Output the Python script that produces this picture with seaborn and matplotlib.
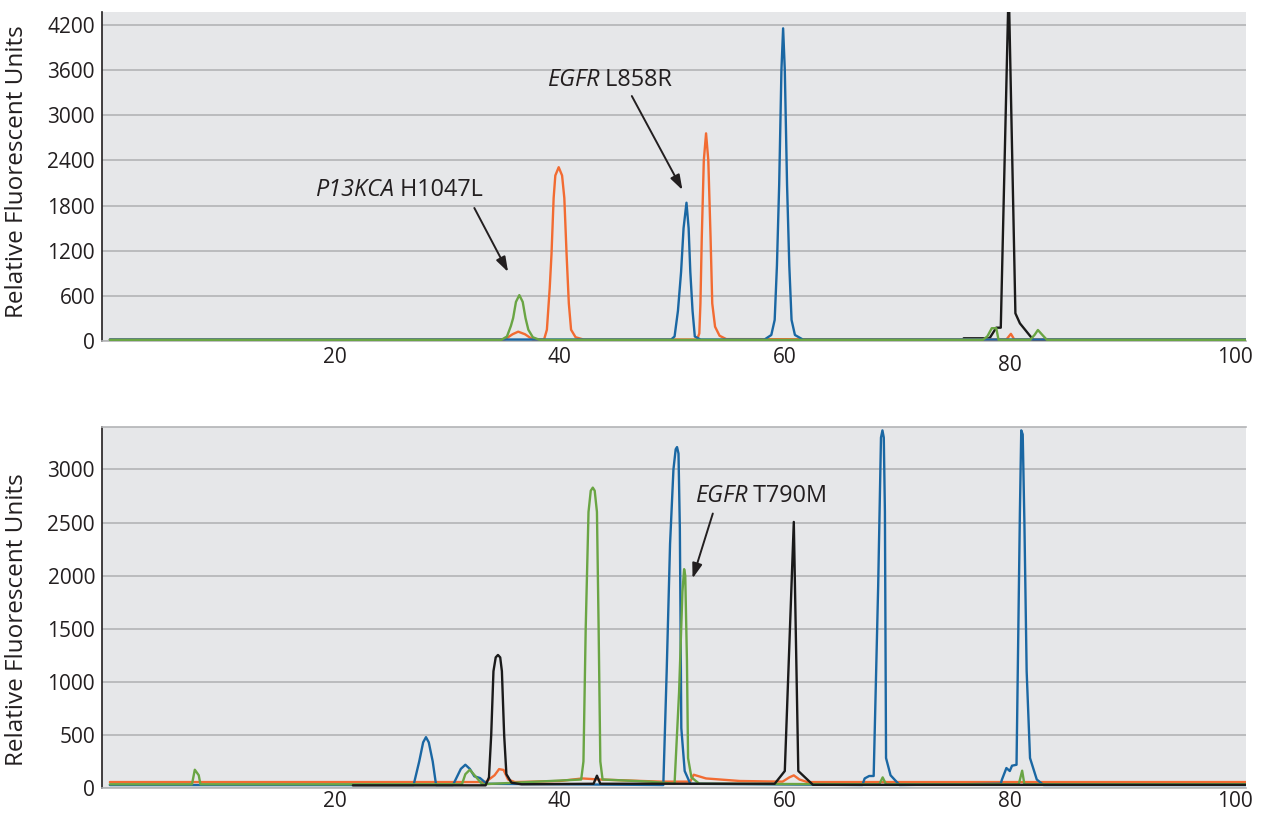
import matplotlib
matplotlib.use("Agg")
import matplotlib.pyplot as plt
import seaborn as sns
import pandas as pd

# ---------------- data ----------------
# Top panel
top_green_x = [0, 34.8, 35.3, 35.65, 35.85, 36.1, 36.4, 36.7, 36.95, 37.2, 37.6, 38.2,
               77.6, 78.0, 78.4, 78.8, 79.0, 81.8, 82.2, 82.5, 82.9, 83.3, 101]
top_green_y = [15, 15, 60, 200, 305, 520, 610, 520, 305, 150, 50, 15,
               15, 60, 170, 170, 15, 15, 80, 146, 80, 15, 15]

top_orange_x = [0, 35.1, 35.8, 36.3, 36.9, 37.6,
                38.6, 38.85, 39.1, 39.26, 39.45, 39.6, 39.9, 40.2, 40.4, 40.6, 40.8, 41.0, 41.4, 42.1,
                52.2, 52.4, 52.5, 52.62, 52.8, 53.0, 53.2, 53.4, 53.55, 53.8, 54.2, 54.8,
                79.7, 80.1, 80.4, 101]
top_orange_y = [20, 20, 90, 124, 90, 20,
                20, 150, 700, 1155, 1900, 2200, 2310, 2200, 1900, 1155, 500, 150, 50, 20,
                20, 100, 500, 1380, 2400, 2760, 2400, 1380, 500, 190, 70, 25,
                20, 95, 20, 20]

top_blue_x = [0, 49.9, 50.2, 50.5, 50.78, 51.0, 51.26, 51.45, 51.6, 51.8, 52.0, 52.5,
              58.2, 58.8, 59.1, 59.3, 59.5, 59.7, 59.85, 60.0, 60.2, 60.4, 60.6, 60.9, 61.6, 101]
top_blue_y = [20, 20, 60, 400, 919, 1500, 1838, 1500, 919, 400, 60, 20,
              20, 80, 280, 1000, 2078, 3600, 4156, 3600, 2078, 1000, 280, 80, 20, 20]

top_black_x = [75.9, 78.2, 78.8, 79.2, 79.85, 79.95, 80.5, 80.9, 82.1, 101]
top_black_y = [36, 36, 177, 177, 4400, 4400, 368, 235, 13, 13]

# Bottom panel
bot_orange_x = [0, 33.4, 34.2, 34.6, 35.0, 35.4, 36.0, 40.0, 42.0, 43.5, 49.0, 51.6, 51.9, 53.0, 56.0,
                59.8, 60.4, 60.8, 61.3, 62.0, 101]
bot_orange_y = [56, 56, 120, 178, 170, 80, 56, 66, 90, 80, 60, 60, 125, 90, 66,
                60, 100, 119, 80, 56, 56]

bot_blue_x = [0, 27.0, 27.5, 27.85, 28.1, 28.35, 28.7, 29.0,
              30.5, 31.2, 31.6, 32.0, 32.4, 32.9, 33.5,
              49.2, 49.5, 49.8, 50.1, 50.3, 50.42, 50.55, 50.67, 50.8, 51.1, 51.6,
              66.9, 67.1, 67.5, 67.9, 68.3, 68.55, 68.68, 68.8, 68.9, 69.0, 69.4, 70.2,
              79.2, 79.3, 79.7, 80.0, 80.2, 80.6, 80.9, 81.02, 81.15, 81.3, 81.5, 81.8, 82.4, 83.0, 101]
bot_blue_y = [28, 28, 250, 430, 479, 430, 250, 28,
              28, 180, 219, 180, 110, 94, 40,
              28, 1100, 2300, 3000, 3190, 3211, 3150, 2443, 564, 160, 40,
              28, 90, 113, 113, 1900, 3300, 3368, 3300, 2600, 282, 120, 28,
              40, 78, 188, 160, 210, 219, 2600, 3368, 3330, 2500, 1100, 282, 80, 28, 28]

bot_green_x = [0, 7.3, 7.55, 7.9, 8.05, 31.3, 31.6, 32.0, 32.5, 33.1,
               41.9, 42.1, 42.3, 42.55, 42.75, 42.93, 43.1, 43.3, 43.45, 43.6, 43.8,
               48.0, 50.2, 50.6, 50.9, 51.05, 51.15, 51.3, 51.4, 51.7, 52.4,
               68.4, 68.7, 69.0, 80.8, 81.1, 81.3, 101]
bot_green_y = [35, 35, 172, 120, 35, 35, 130, 172, 110, 35,
               80, 250, 1500, 2600, 2800, 2829, 2800, 2600, 1500, 250, 80,
               60, 40, 900, 1850, 2061, 2000, 1200, 282, 100, 40,
               35, 100, 35, 35, 163, 35, 35]

bot_black_x = [21.6, 33.4, 33.7, 33.9, 34.1, 34.3, 34.5, 34.7, 34.85, 35.05, 35.25, 35.7, 36.6,
               43.0, 43.3, 43.6, 59.1, 60.0, 60.8, 61.2, 62.5, 101]
bot_black_y = [25, 25, 100, 500, 1100, 1230, 1253, 1230, 1100, 500, 130, 50, 35,
               40, 116, 40, 40, 160, 2506, 160, 30, 30]

top_yticks = [0, 600, 1200, 1800, 2400, 3000, 3600, 4200]
bot_yticks = [0, 500, 1000, 1500, 2000, 2500, 3000]
xticks = [20, 40, 60, 80, 100]
ylabel = "Relative Fluorescent Units"

# ---------------- styling ----------------
BLUE = "#1a67a3"
ORANGE = "#f26b32"
GREEN = "#6aa544"
BLACK = "#1a1a1a"
BG = "#e6e7e9"
GRID = "#b3b4b6"
TXT = "#231f20"

sns.set_style("white")
plt.rcParams["font.family"] = ["Open Sans", "DejaVu Sans"]
plt.rcParams["text.color"] = TXT

fig = plt.figure(figsize=(12.61, 8.13), dpi=100)
ax1 = fig.add_axes([102 / 1261, 1 - 341 / 813, 1144 / 1261, 329 / 813])
ax2 = fig.add_axes([102 / 1261, 1 - 788 / 813, 1144 / 1261, 361 / 813])


def draw(ax, xs, ys, color, z):
    df = pd.DataFrame({"x": xs, "y": ys})
    sns.lineplot(data=df, x="x", y="y", ax=ax, color=color, lw=1.7,
                 sort=False, estimator=None, zorder=z)


draw(ax1, top_black_x, top_black_y, BLACK, 3)
draw(ax1, top_orange_x, top_orange_y, ORANGE, 4)
draw(ax1, top_blue_x, top_blue_y, BLUE, 5)
draw(ax1, top_green_x, top_green_y, GREEN, 6)

draw(ax2, bot_orange_x, bot_orange_y, ORANGE, 3)
draw(ax2, bot_blue_x, bot_blue_y, BLUE, 4)
draw(ax2, bot_green_x, bot_green_y, GREEN, 5)
draw(ax2, bot_black_x, bot_black_y, BLACK, 6)

for ax, yt, ylim, lab_y, xpad in [(ax1, top_yticks, (0, 4373), 0.514, 4),
                                  (ax2, bot_yticks, (0, 3400), 0.466, 2)]:
    ax.set_facecolor(BG)
    ax.set_xlim(-0.7, 101)
    ax.set_ylim(*ylim)
    ax.set_yticks(yt)
    ax.set_xticks(xticks)
    ax.set_yticklabels([str(v) for v in yt])
    ax.set_xticklabels([str(v) for v in xticks])
    ax.grid(axis="y", color=GRID, lw=1.2)
    ax.grid(axis="x", visible=False)
    ax.set_axisbelow(True)
    ax.tick_params(axis="both", length=0, labelsize=15, colors=TXT)
    ax.tick_params(axis="y", pad=5)
    ax.tick_params(axis="x", pad=xpad)
    ax.set_xlabel("")
    ax.set_ylabel(ylabel, fontsize=17.5, color=TXT)
    ax.yaxis.set_label_coords(-0.064, lab_y)
    for s in ["top", "right"]:
        ax.spines[s].set_visible(False)
    ax.spines["left"].set_color(TXT)
    ax.spines["left"].set_linewidth(1.2)
    ax.spines["bottom"].set_color(GRID)
    ax.spines["bottom"].set_linewidth(1.2)

ax2.spines["top"].set_visible(True)
ax2.spines["top"].set_color(GRID)
ax2.spines["top"].set_linewidth(1.2)

# the "80" label on the top panel sits a bit lower
ax1.xaxis.get_major_ticks()[3].set_pad(10)

arrow_kw = dict(arrowstyle="-|>,head_length=0.9,head_width=0.3", color=TXT, lw=1.4,
                shrinkA=0, shrinkB=0)


def label(ax, x, y, ital, reg):
    t = ax.text(x, y, ital, style="italic", fontsize=16.8, va="center", ha="left", zorder=10)
    ax.annotate(" " + reg, xy=(1, 0.5), xycoords=t, va="center", ha="left", fontsize=16.8, zorder=10)


label(ax1, 18.2, 2007, "P13KCA", "H1047L")
ax1.annotate("", xy=(35.4, 917), xytext=(32.4, 1768), arrowprops=arrow_kw)

label(ax1, 38.85, 3469, "EGFR", "L858R")
ax1.annotate("", xy=(50.9, 2007), xytext=(46.4, 3256), arrowprops=arrow_kw)

label(ax2, 52.0, 2754, "EGFR", "T790M")
ax2.annotate("", xy=(51.8, 1974), xytext=(53.6, 2585), arrowprops=arrow_kw)

fig.savefig("out.png", dpi=100)
